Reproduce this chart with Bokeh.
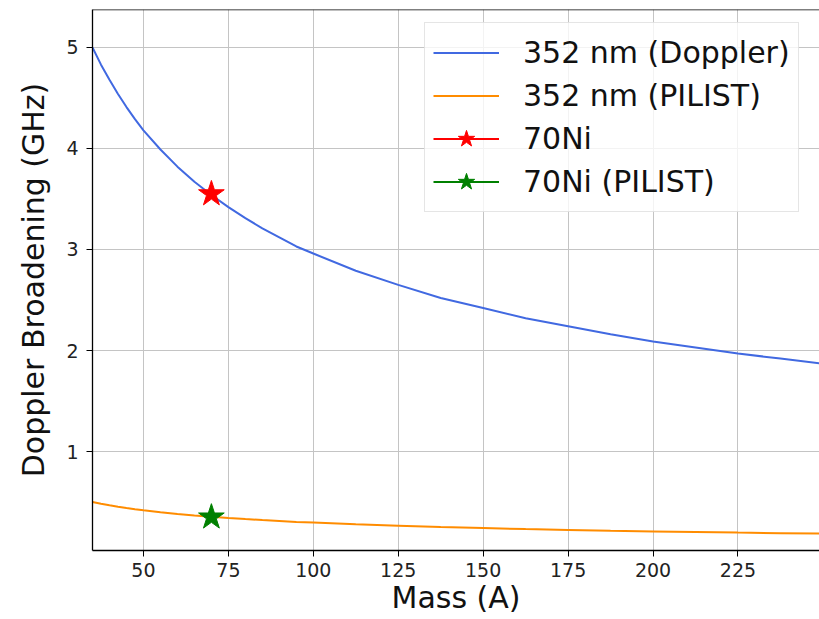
from bokeh.plotting import figure
from bokeh.models import Range1d, Legend, LegendItem, Span, FixedTicker
from bokeh.embed import file_html
from bokeh.resources import INLINE

# Data
mass = [35, 37.5, 40, 42.5, 45, 47.5, 50, 55, 60, 65, 70, 75, 80, 85, 90, 95, 100,
        112.5, 125, 137.5, 150, 162.5, 175, 187.5, 200, 212.5, 225, 237.5, 250]
doppler_352 = [5.00, 4.83, 4.68, 4.54, 4.41, 4.29, 4.18, 3.99, 3.82, 3.67, 3.54, 3.42, 3.31,
               3.21, 3.12, 3.03, 2.96, 2.79, 2.65, 2.52, 2.42, 2.32, 2.24, 2.16, 2.09, 2.03,
               1.97, 1.92, 1.87]
pilist_352 = [0.500, 0.483, 0.468, 0.454, 0.441, 0.429, 0.418, 0.399, 0.382, 0.367, 0.354,
              0.342, 0.331, 0.321, 0.312, 0.303, 0.296, 0.279, 0.265, 0.252, 0.242, 0.232,
              0.224, 0.216, 0.209, 0.203, 0.197, 0.192, 0.187]
ni70_mass = [70]
ni70_doppler = [3.55]
ni70_pilist = [0.35]
x_ticks = [50, 75, 100, 125, 150, 175, 200, 225]
y_ticks = [1, 2, 3, 4, 5]

FONT = "DejaVu Sans"
X_END = 249
Y_END = 5.376

p = figure(width=819, height=619, output_backend="svg", toolbar_location=None,
           x_range=Range1d(35, X_END), y_range=Range1d(0.02, Y_END),
           min_border_left=92, min_border_right=0, min_border_top=9, min_border_bottom=69)
p.outline_line_color = None
p.background_fill_color = "white"
p.border_fill_color = "white"

r_dop = p.line(mass, doppler_352, line_color="#4169e1", line_width=2)
r_pil = p.line(mass, pilist_352, line_color="#ff8c00", line_width=2)
l_ni = p.line(ni70_mass, ni70_doppler, line_color="red", line_width=2)
s_ni = p.scatter(ni70_mass, ni70_doppler, marker="star", size=27, fill_color="red", line_color="red")
l_nip = p.line(ni70_mass, ni70_pilist, line_color="green", line_width=2)
s_nip = p.scatter(ni70_mass, ni70_pilist, marker="star", size=27, fill_color="green", line_color="green")

# top frame border (no right border, as in the cropped reference)
p.add_layout(Span(location=Y_END, dimension="width", line_color="black", line_width=1.3))

p.xaxis.ticker = FixedTicker(ticks=x_ticks)
p.yaxis.ticker = FixedTicker(ticks=y_ticks)
for ax in (p.xaxis, p.yaxis):
    ax.minor_tick_line_color = None
    ax.major_tick_in = 0
    ax.major_tick_out = 6
    ax.major_tick_line_color = "black"
    ax.axis_line_color = "black"
    ax.axis_line_width = 1.3
    ax.major_label_text_font = FONT
    ax.major_label_text_font_size = "19px"
    ax.major_label_text_color = "#222222"
    ax.axis_label_text_font = FONT
    ax.axis_label_text_font_size = "30px"
    ax.axis_label_text_font_style = "normal"
    ax.axis_label_text_color = "#111111"
p.xaxis.major_label_standoff = 6
p.xaxis.axis_label_standoff = 0
p.yaxis.major_label_standoff = 8
p.yaxis.axis_label_standoff = 12
p.xaxis.axis_label = "Mass (A)"
p.yaxis.axis_label = "Doppler Broadening (GHz)"

p.grid.grid_line_color = "#c4c4c4"
p.grid.grid_line_width = 1

legend = Legend(items=[
    LegendItem(label="352 nm (Doppler)", renderers=[r_dop]),
    LegendItem(label="352 nm (PILIST)", renderers=[r_pil]),
    LegendItem(label="70Ni", renderers=[l_ni, s_ni]),
    LegendItem(label="70Ni (PILIST)", renderers=[l_nip, s_nip]),
], location=(332, 338), margin=0, padding=8, spacing=0,
    label_height=43, glyph_height=43, glyph_width=66, label_standoff=24,
    label_text_font=FONT, label_text_font_size="30px", label_text_color="#111111",
    background_fill_color="white", background_fill_alpha=0.8,
    border_line_color="#cccccc", border_line_width=1)
p.add_layout(legend)

open("out.html", "w").write(file_html(p, INLINE))
